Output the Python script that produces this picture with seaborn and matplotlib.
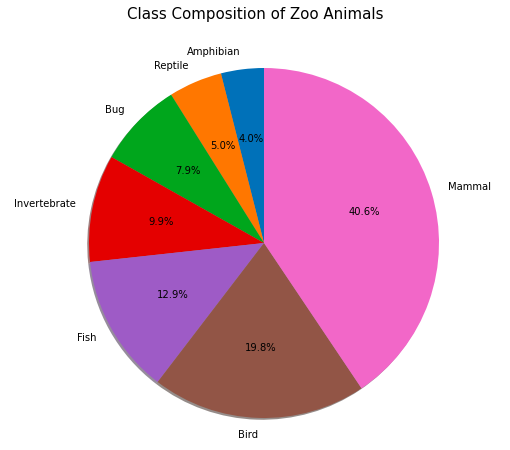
import matplotlib
matplotlib.use("Agg")
import matplotlib.pyplot as plt
import seaborn as sns

classes = ["Amphibian", "Reptile", "Bug", "Invertebrate", "Fish", "Bird", "Mammal"]
counts = [4, 5, 8, 10, 13, 20, 41]
hex_colors = ["#0071b9", "#ff7700", "#00a61c", "#e40000", "#9e5bc6", "#925546", "#f267c8"]

sns.set_style("white")
plt.rcParams['font.family'] = ['DejaVu Sans']
plt.rcParams['text.color'] = 'black'
plt.rcParams['patch.force_edgecolor'] = False
colors = sns.color_palette(hex_colors)

fig = plt.figure(figsize=(510/72, 450/72), dpi=72)
ax = fig.add_axes([45.25/510, (207 - 218.75)/450, 437.5/510, 437.5/450])
ax.pie(counts, labels=classes, colors=colors, autopct="%1.1f%%", startangle=90,
       shadow={"ox": -0.01, "oy": -0.01, "shade": 0.7},
       textprops={"fontsize": 10, "color": "black"},
       wedgeprops={"linewidth": 0, "edgecolor": "none"})
ax.set_xlim(-1.25, 1.25)
ax.set_ylim(-1.25, 1.25)
ax.set_aspect("equal")
fig.text(0.5, 1 - 14/450, "Class Composition of Zoo Animals", ha="center", va="center",
         fontsize=15, color="black")
fig.savefig("out.png", dpi=72, facecolor="white")
